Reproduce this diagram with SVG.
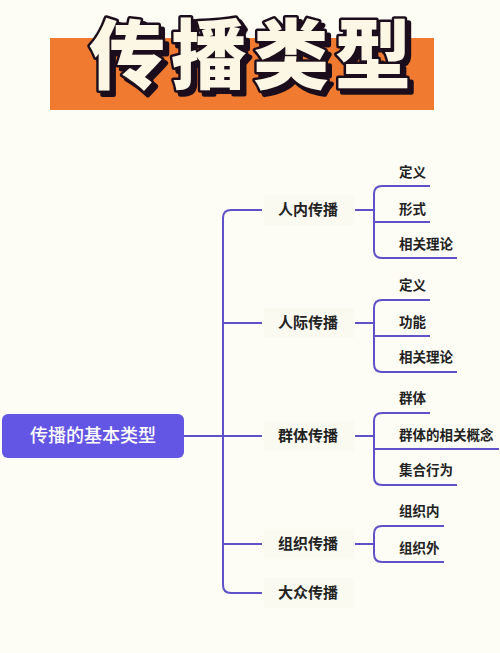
<svg xmlns="http://www.w3.org/2000/svg" width="500" height="653" viewBox="0 0 500 653">
<defs>
<filter id="sh" x="-10%" y="-20%" width="120%" height="150%">
<feFlood flood-color="#1C0E1A" result="c"/>
<feComposite in="c" in2="SourceAlpha" operator="in" result="s"/>
<feOffset in="s" dx="4" dy="4" result="o"/>
<feMerge><feMergeNode in="o"/><feMergeNode in="SourceGraphic"/></feMerge>
</filter>
</defs>
<style>
.title{font-family:"Noto Sans CJK SC","Noto Sans",sans-serif;font-weight:900;font-size:76px;letter-spacing:6px}
.root{font-family:"Noto Sans CJK SC","Noto Sans",sans-serif;font-size:18px;fill:#ffffff;font-weight:500}
.lbl{font-family:"Noto Sans CJK SC","Noto Sans",sans-serif;font-size:15px;fill:#222222;font-weight:700}
.sub{font-family:"Noto Sans CJK SC","Noto Sans",sans-serif;font-size:13.5px;fill:#222222;font-weight:700}
.ln{fill:none;stroke:#5F52C8;stroke-width:2}
.lb{fill:#FAFAF1}
</style>
<rect width="500" height="653" fill="#FDFDF6"/>
<g id="title">
<rect x="50" y="38" width="384" height="72" fill="#F07A30"/>
<text class="title" x="253" y="83" text-anchor="middle" fill="#FBF7E4" stroke="#1C0E1A" stroke-width="5" stroke-linejoin="round" paint-order="stroke" filter="url(#sh)">传播类型</text>
</g>
<g id="connectors">
<path class="ln" d="M184,436 H262"/>
<path class="ln" d="M262,210 H231 Q223,210 223,218 V585 Q223,593 231,593 H262"/>
<path class="ln" d="M223,323 H262 M223,544 H262"/>
<path class="ln" d="M355,210 H374 M430,186 H382 Q374,186 374,194 V250 Q374,258 382,258 H457 M374,222 H430"/>
<path class="ln" d="M355,323 H374 M430,300 H382 Q374,300 374,308 V364 Q374,372 382,372 H457 M374,336 H430"/>
<path class="ln" d="M355,436 H374 M430,413 H382 Q374,413 374,421 V477 Q374,485 382,485 H457 M374,449 H499"/>
<path class="ln" d="M355,544 H374 M444,526 H382 Q374,526 374,534 V554 Q374,562 382,562 H444"/>
</g>
<g id="root">
<rect x="2" y="414" width="182" height="44" rx="6" fill="#6456E4"/>
<text class="root" x="93" y="442" text-anchor="middle">传播的基本类型</text>
</g>
<g id="n1"><rect class="lb" x="264" y="195" width="90" height="30"/><text class="lbl" x="278" y="215">人内传播</text></g>
<g id="n1a"><text class="sub" x="399" y="177">定义</text></g>
<g id="n1b"><text class="sub" x="399" y="214">形式</text></g>
<g id="n1c"><text class="sub" x="399" y="249">相关理论</text></g>
<g id="n2"><rect class="lb" x="264" y="308" width="90" height="30"/><text class="lbl" x="278" y="328">人际传播</text></g>
<g id="n2a"><text class="sub" x="399" y="290">定义</text></g>
<g id="n2b"><text class="sub" x="399" y="327">功能</text></g>
<g id="n2c"><text class="sub" x="399" y="362">相关理论</text></g>
<g id="n3"><rect class="lb" x="264" y="421" width="90" height="30"/><text class="lbl" x="278" y="441">群体传播</text></g>
<g id="n3a"><text class="sub" x="399" y="403">群体</text></g>
<g id="n3b"><text class="sub" x="399" y="440">群体的相关概念</text></g>
<g id="n3c"><text class="sub" x="399" y="475">集合行为</text></g>
<g id="n4"><rect class="lb" x="264" y="529" width="90" height="30"/><text class="lbl" x="278" y="549">组织传播</text></g>
<g id="n4a"><text class="sub" x="399" y="516">组织内</text></g>
<g id="n4b"><text class="sub" x="399" y="553">组织外</text></g>
<g id="n5"><rect class="lb" x="264" y="578" width="90" height="30"/><text class="lbl" x="278" y="598">大众传播</text></g>
</svg>
